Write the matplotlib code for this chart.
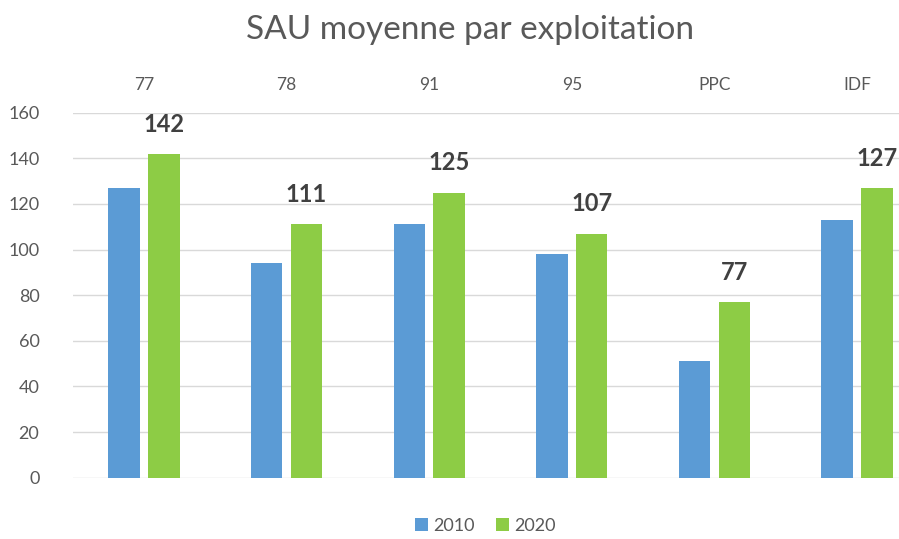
import numpy as np
import matplotlib.pyplot as plt

plt.rcParams['font.family'] = ['Lato', 'DejaVu Sans']

categories = ["77", "78", "91", "95", "PPC", "IDF"]
sau_2010 = [127, 94, 111, 98, 51, 113]
sau_2020 = [142, 111, 125, 107, 77, 127]
yticks = [0, 20, 40, 60, 80, 100, 120, 140, 160]

blue = '#5B9BD5'
green = '#8DCC45'
gray = '#595959'

fig = plt.figure(figsize=(8.99, 5.39), dpi=100)
ax = fig.add_axes([0.0809, 0.1137, 0.9517, 0.6772])

x = np.arange(len(categories))
w = 0.22
ax.bar(x - 0.14, sau_2010, width=w, color=blue, label='2010', zorder=3)
bars = ax.bar(x + 0.14, sau_2020, width=w, color=green, label='2020', zorder=3)

for rect, v in zip(bars, sau_2020):
    ax.text(rect.get_x() + rect.get_width() / 2, v + 8, str(v),
            ha='center', va='bottom', fontsize=17, fontweight='bold', color='#404040')

ax.set_xlim(-0.5, len(categories) - 0.5)
ax.set_ylim(0, 160)
ax.set_yticks(yticks)
ax.set_xticks(x)
ax.set_xticklabels(categories)
ax.xaxis.tick_top()
ax.tick_params(axis='x', length=0, pad=14, labelsize=12.5, labelcolor=gray)
ax.tick_params(axis='y', length=0, pad=24, labelsize=13, labelcolor=gray)
for t in ax.get_yticklabels():
    t.set_horizontalalignment('right')
ax.grid(axis='y', color='#d9d9d9', linewidth=1, zorder=0)
for s in ax.spines.values():
    s.set_visible(False)

fig.text(0.523, 1 - 30 / 539, "SAU moyenne par exploitation", ha='center', va='center',
         fontsize=24, color=gray)

fig.legend(loc='center', bbox_to_anchor=(0.54, 1 - 526 / 539), ncol=2, frameon=False,
           fontsize=13, handlelength=0.7, handleheight=0.7, handletextpad=0.3,
           columnspacing=1.2, labelcolor=gray)

fig.savefig('out.png', dpi=100)
